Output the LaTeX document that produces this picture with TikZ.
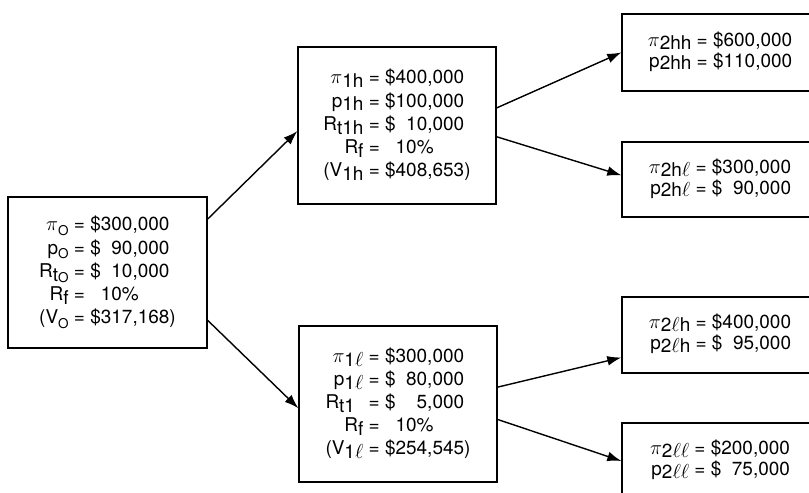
\documentclass[tikz,border=0pt]{standalone}
\usepackage{fontspec}
\setmainfont{TeX Gyre Heros}
\usetikzlibrary{arrows.meta}
\newcommand{\lo}[1]{\raisebox{-2.8pt}{#1}}
\newcommand{\loright}[1]{\raisebox{-2pt}{#1}}
\newcommand{\los}[1]{\raisebox{-3.5pt}{\fontsize{9.6}{10}\selectfont #1}}

\begin{document}
\begin{tikzpicture}[x=0.025cm, y=-0.025cm,
  box/.style={draw, line width=0.9pt, inner sep=0pt, font=\fontsize{13.5}{16.4}\selectfont},
  leaf/.style={box, font=\fontsize{13.5}{14.6}\selectfont, minimum width=4.9cm},
  arr/.style={-{Latex[length=10pt,width=7pt]}, line width=1pt}]
\useasboundingbox (0,0) rectangle (809,493);
\clip (0,0) rectangle (809,493);

\node (V0) at (107.5,272.5) [box, minimum width=4.975cm, minimum height=3.775cm] {\begin{tabular}{@{}r@{\ }l@{}}
$\pi$\los{O} & = \$300,000\\
p\los{O} & = \$\hphantom{0}90,000\\
R\lo{t}\los{O} & = \$\hphantom{0}10,000\\
R\lo{f} & = \hphantom{\$}10\%\\
(V\los{O} & = \$317,168)
\end{tabular}};
\node (V1h) at (397,125.5) [box, minimum width=4.95cm, minimum height=3.925cm] {\begin{tabular}{@{}r@{\ }l@{}}
$\pi$\lo{1h} & = \$400,000\\
p\lo{1h} & = \$100,000\\
R\lo{t1h} & = \$\hphantom{0}10,000\\
R\lo{f} & = \hphantom{\$}10\%\\
(V\lo{1h} & = \$408,653)
\end{tabular}};
\node (V1l) at (398,404) [box, minimum width=4.95cm, minimum height=3.9cm] {\begin{tabular}{@{}r@{\ }l@{}}
$\pi$\lo{1$\ell$} & = \$300,000\\
p\lo{1$\ell$} & = \$\hphantom{0}80,000\\
R\lo{t1}\hphantom{$\ell$} & = \$\hphantom{00}5,000\\
R\lo{f} & = \hphantom{\$}10\%\\
(V\lo{1$\ell$} & = \$254,545)
\end{tabular}};

\node (V2hh) at (720,52.5) [leaf, minimum height=1.925cm] {\begin{tabular}{@{}r@{\ }l@{}}
$\pi$\loright{2hh} & = \$600,000\\
p\loright{2hh} & = \$110,000
\end{tabular}};
\node (V2hl) at (720,179.5) [leaf, minimum height=1.875cm] {\begin{tabular}{@{}r@{\ }l@{}}
$\pi$\loright{2h$\ell$} & = \$300,000\\
p\loright{2h$\ell$} & = \$\hphantom{0}90,000
\end{tabular}};
\node (V2lh) at (720,335) [leaf, minimum height=1.9cm] {\begin{tabular}{@{}r@{\ }l@{}}
$\pi$\loright{2$\ell$h} & = \$400,000\\
p\loright{2$\ell$h} & = \$\hphantom{0}95,000
\end{tabular}};
\node (V2ll) at (720,461) [leaf, minimum height=1.9cm] {\begin{tabular}{@{}r@{\ }l@{}}
$\pi$\loright{2$\ell\ell$} & = \$200,000\\
p\loright{2$\ell\ell$} & = \$\hphantom{0}75,000
\end{tabular}};

\draw [arr] ([yshift=38pt]V0.east) -- ([yshift=-4pt]V1h.west);
\draw [arr] ([yshift=-34pt]V0.east) -- ([yshift=-3pt]V1l.west);
\draw [arr] ([yshift=12.5pt]V1h.east) -- (V2hh.west);
\draw [arr] ([yshift=-8pt]V1h.east) -- ([yshift=3pt]V2hl.west);
\draw [arr] ([yshift=12pt]V1l.east) -- ([yshift=-16pt]V2lh.west);
\draw [arr] ([yshift=-11pt]V1l.east) -- (V2ll.west);
\end{tikzpicture}
\end{document}
